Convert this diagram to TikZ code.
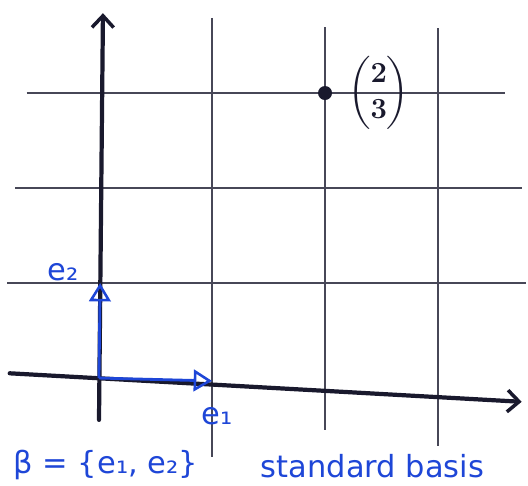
\documentclass[tikz,border=0pt]{standalone}
\usepackage{amsmath,amssymb}
\usepackage{xcolor}
\usepackage{fontspec}
\usetikzlibrary{arrows.meta,positioning}

\newfontfamily\handfont{DejaVu Sans}
\definecolor{inkblue}{RGB}{30,70,215}
\definecolor{inkdark}{RGB}{25,25,45}

\begin{document}
\begin{tikzpicture}[
  x=3.39cm,y=2.85cm,
  gridline/.style={draw=inkdark!80,line width=1.4pt},
  axis/.style={draw=inkdark,line width=3.6pt,line cap=round,-{Straight Barb[length=3.5mm,width=6.5mm,line width=3pt]}},
  basisvec/.style={draw=inkblue,line width=2.4pt,-{Triangle[open,length=5.5mm,width=6.5mm,line width=2.2pt]}},
  lbl/.style={inkblue,font=\handfont\fontsize{26}{30}\selectfont,inner sep=1pt},
  pointdot/.style={circle,fill=inkdark,minimum size=0.42cm,inner sep=0pt}
]
\useasboundingbox (-0.876,-1.126) rectangle (3.796,3.979);

% grid
\draw[gridline] (-0.64,3) -- (3.59,3);
\draw[gridline] (-0.74,2) -- (3.74,2);
\draw[gridline] (-0.81,1) -- (3.78,1);
\draw[gridline] (1,3.79) -- (1,-0.83);
\draw[gridline] (2,3.69) -- (2,-0.55);
\draw[gridline] (3,3.68) -- (3,-0.71);

% axes
\coordinate (O) at (0,0);
\coordinate (ystart) at (0,-0.44);
\coordinate (yend) at (0.035,3.84);
\coordinate (xstart) at (-0.79,0.05);
\coordinate (xend) at (3.74,-0.25);
\draw[axis] (ystart) -- (yend);
\draw[axis] (xstart) -- (xend);

% standard basis vectors
\coordinate (E1) at (1,-0.03);
\coordinate (E2) at (0.01,1);
\draw[basisvec] (O) -- (E1);
\draw[basisvec] (O) -- (E2);
\node[lbl,below right=0.75cm and -0.35cm of E1] (e1lbl) {e₁};
\node[lbl,below left=-0.62cm and 0.6cm of E2] (e2lbl) {e₂};

% the point (2,3)
\node[pointdot] (pt) at (2,3) {};
\node[font=\fontsize{26}{31}\selectfont\boldmath,text=inkdark,right=0.35cm of pt] (coords) {$\begin{pmatrix}2\\3\end{pmatrix}$};

% caption
\node[lbl] (basis) at (0.06,-0.91) {β = \{e₁, e₂\}};
\node[lbl] (stdlbl) at (2.42,-0.93) {standard basis};

\end{tikzpicture}
\end{document}
